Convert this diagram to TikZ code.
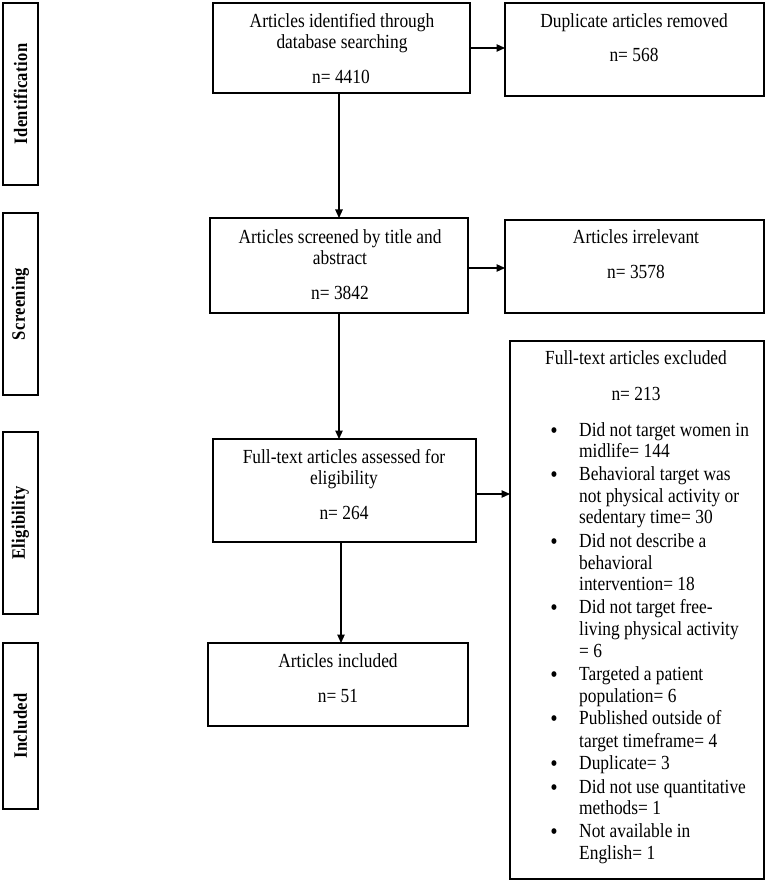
\documentclass[tikz,border=0pt]{standalone}
\usepackage{fontspec}
\setmainfont{Liberation Serif}[FakeStretch=0.87]
\usetikzlibrary{arrows.meta}
\newcommand\fs{\fontsize{20}{22}\selectfont}
\newcommand\bfs{\fontsize{21}{22}\selectfont\bfseries}
\newcommand\sidefs{\fontsize{19}{21}\selectfont\bfseries\addfontfeature{LetterSpace=2}}
\tikzset{
  box/.style={draw, line width=1.4pt, inner sep=0pt, outer sep=0pt},
  sidebox/.style={box, rotate=90, minimum height=35pt, font=\sidefs},
  txt/.style={font=\fs, inner sep=0pt, anchor=base},
  ltxt/.style={font=\fs, inner sep=0pt, anchor=base west},
  bul/.style={font=\bfs, inner sep=0pt, anchor=base},
  arr/.style={-{Triangle[length=8.5pt,width=7.5pt]}, line width=1.1pt}
}
\begin{document}
\begin{tikzpicture}[x=1pt,y=-1pt]
\fill[white] (0,0) rectangle (765,882);
\useasboundingbox (0,0) rectangle (765,882);
% side labels
\node[sidebox, minimum width=182pt] (ident) at (20.5,94) {Identification};
\node[sidebox, minimum width=182pt] (screen) at (20.5,304) {Screening};
\node[sidebox, minimum width=182pt] (elig) at (20.5,523) {Eligibility};
\node[sidebox, minimum width=166pt] (incl) at (20.5,726) {Included};
% boxes
\node[box, minimum width=257pt, minimum height=90pt] (b1) at (341.5,48) {};
\node[box, minimum width=259pt, minimum height=93pt] (dup) at (634.5,49.5) {};
\node[box, minimum width=258pt, minimum height=95pt] (b2) at (339,265.5) {};
\node[box, minimum width=259pt, minimum height=93pt] (irr) at (634.5,266.5) {};
\node[box, minimum width=263pt, minimum height=103pt] (b3) at (344.5,490.5) {};
\node[box, minimum width=254pt, minimum height=538pt] (exc) at (637,610) {};
\node[box, minimum width=260pt, minimum height=83pt] (b4) at (338,684.5) {};
% texts
\node[txt] (t1a) at (342,27.2) {Articles identified through};
\node[txt] (t1b) at (342,48.8) {database searching};
\node[txt] (t1c) at (341,83.5) {n= 4410};
\node[txt] (tda) at (634,27.2) {Duplicate articles removed};
\node[txt] (tdb) at (634,61.8) {n= 568};
\node[txt] (t2a) at (340,243.2) {Articles screened by title and};
\node[txt] (t2b) at (340,264.8) {abstract};
\node[txt] (t2c) at (340,299.1) {n= 3842};
\node[txt] (tia) at (636,243.2) {Articles irrelevant};
\node[txt] (tib) at (636,278.5) {n= 3578};
\node[txt] (t3a) at (344,463.2) {Full-text articles assessed for};
\node[txt] (t3b) at (344,484.8) {eligibility};
\node[txt] (t3c) at (344,519.5) {n= 264};
\node[txt] (t4a) at (338,667.5) {Articles included};
\node[txt] (t4b) at (338,702.5) {n= 51};
\node[txt] (tea) at (636,364.5) {Full-text articles excluded};
\node[txt] (teb) at (636,400.8) {n= 213};
\foreach \yy/\tt [count=\i] in {
  430/Did not target women in,
  451/midlife= 144,
  474/Behavioral target was,
  496/not physical activity or,
  517/sedentary time= 30,
  541/Did not describe a,
  563/behavioral,
  584/intervention= 18,
  607/Did not target free-,
  629/living physical activity,
  651/= 6,
  674/Targeted a patient,
  696/population= 6,
  718/Published outside of,
  741/target timeframe= 4,
  763/Duplicate= 3,
  787/Did not use quantitative,
  808/methods= 1,
  831/Not available in,
  853/English= 1}
  \node[ltxt] (ex\i) at (579,\yy+6.5) {\tt};
\foreach \yy [count=\i] in {430,474,541,607,674,718,763,787,831}
  \node[bul] (bul\i) at (554,\yy+7) {\textbullet};
% arrows
\draw[arr] (b1.south -| b2.north) -- (b2.north);
\draw[arr] (b1.east) -- (b1.east -| dup.west);
\draw[arr] ([yshift=-2.5pt]b2.east) -- ([yshift=-2.5pt]b2.east -| irr.west);
\draw[arr] (b2.south) -- (b2.south |- b3.north);
\draw[arr] ([yshift=-3.5pt]b3.east) -- ([yshift=-3.5pt]b3.east -| exc.west);
\draw[arr] ([xshift=-3.5pt]b3.south) -- ([xshift=-3.5pt]b3.south |- b4.north);
\end{tikzpicture}
\end{document}
